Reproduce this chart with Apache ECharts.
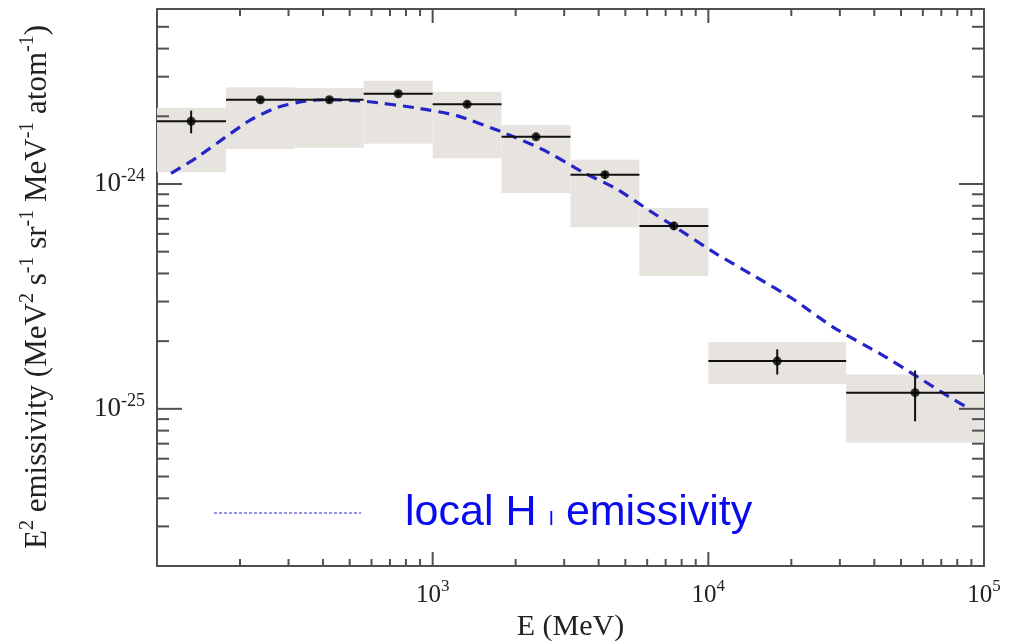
<!DOCTYPE html>
<html><head><meta charset="utf-8">
<script src="https://cdn.jsdelivr.net/npm/echarts@6.0.0/dist/echarts.min.js"></script>
<style>html,body{margin:0;padding:0;background:#fff}#c{width:1017px;height:641px}</style>
</head><body><div id="c"></div>
<script>
// ---- data ----
const binLo = [100, 178, 316, 562, 1000, 1778, 3162, 5623, 10000, 31623];
const binHi = [178, 316, 562, 1000, 1778, 3162, 5623, 10000, 31623, 100000];
const energy = [133, 237, 422, 750, 1334, 2371, 4217, 7499, 17783, 56234];
const emissivity = [1.90e-24, 2.37e-24, 2.37e-24, 2.52e-24, 2.26e-24, 1.62e-24, 1.10e-24, 6.51e-25, 1.63e-25, 1.18e-25];
const statLo = [1.68e-24, 2.30e-24, 2.30e-24, 2.45e-24, 2.20e-24, 1.57e-24, 1.06e-24, 6.25e-25, 1.42e-25, 8.8e-26];
const statHi = [2.12e-24, 2.44e-24, 2.44e-24, 2.59e-24, 2.33e-24, 1.67e-24, 1.14e-24, 6.78e-25, 1.84e-25, 1.48e-25];
const sysLo = [1.127e-24, 1.43e-24, 1.45e-24, 1.51e-24, 1.30e-24, 9.12e-25, 6.42e-25, 3.90e-25, 1.29e-25, 7.06e-26];
const sysHi = [2.18e-24, 2.69e-24, 2.67e-24, 2.88e-24, 2.57e-24, 1.83e-24, 1.28e-24, 7.82e-25, 1.98e-25, 1.42e-25];
const modelE = [112.5, 139.6, 176.6, 217.8, 272.3, 349.1, 424.6, 576.8, 874.9, 1222, 1803, 2518, 3516, 4645, 6124, 7482, 10691, 14928, 20277, 28314, 42954, 56234, 74817, 88512];
const modelY = [1.114e-24, 1.312e-24, 1.611e-24, 1.923e-24, 2.188e-24, 2.344e-24, 2.371e-24, 2.328e-24, 2.178e-24, 2.014e-24, 1.694e-24, 1.419e-24, 1.127e-24, 9.51e-25, 7.60e-25, 6.50e-25, 4.89e-25, 3.85e-25, 3.08e-25, 2.31e-25, 1.73e-25, 1.41e-25, 1.13e-25, 1.00e-25];
const xMajorTicks = [1000, 10000];
const yMajorTicks = [1e-25, 1e-24];
const xMinorTicks = [200, 300, 400, 500, 600, 700, 800, 900, 2000, 3000, 4000, 5000, 6000, 7000, 8000, 9000, 20000, 30000, 40000, 50000, 60000, 70000, 80000, 90000];
const yMinorTicks = [3e-26, 4e-26, 5e-26, 6e-26, 7e-26, 8e-26, 9e-26, 2e-25, 3e-25, 4e-25, 5e-25, 6e-25, 7e-25, 8e-25, 9e-25, 2e-24, 3e-24, 4e-24, 5e-24];
const X_MIN = 100, X_MAX = 100000, Y_MIN = 2e-26, Y_MAX = 6e-24;
const xTitle = 'E (MeV)';
const yTitle = '{b|E}{s|2}{b| emissivity (MeV}{s|2}{b| s}{s|-1}{b| sr}{s|-1}{b| MeV}{s|-1}{b| atom}{s|-1}{b|)}';
const legendName = 'local H I emissivity';

// ---- chart ----
const AX = '#505050';
const SERIF = '"Liberation Serif", "DejaVu Serif", serif';
const SANS = '"Liberation Sans", Arial, sans-serif';
const chart = echarts.init(document.getElementById('c'), null, {renderer: 'canvas'});

function powLabel(v) {
  if (!(v > 0)) return '';
  const e = Math.log10(v), r = Math.round(e);
  if (!isFinite(e) || Math.abs(e - r) > 1e-6) return '';
  return '{b|10}{s|' + r + '}';
}

const boxData = binLo.map((lo, i) => [lo, binHi[i], sysLo[i], sysHi[i]]);
const barData = binLo.map((lo, i) => [lo, binHi[i], emissivity[i], energy[i], statLo[i], statHi[i]]);

function frameAxis(pos) {
  return {
    type: 'log', logBase: 10, position: pos,
    axisLine: {show: true, onZero: false, lineStyle: {color: AX, width: 2}},
    axisTick: {show: false},
    axisLabel: {show: false}, splitLine: {show: false}
  };
}

const xBottom = Object.assign(frameAxis('bottom'), {
  min: X_MIN, max: X_MAX,
  axisLabel: {
    show: true, showMinLabel: false, margin: 12, formatter: v => powLabel(v),
    rich: {
      b: {fontFamily: SERIF, fontSize: 25, color: '#222', lineHeight: 34},
      s: {fontFamily: SERIF, fontSize: 17, color: '#222', lineHeight: 12, verticalAlign: 'top'}
    }
  },
  name: xTitle, nameLocation: 'middle', nameGap: 42,
  nameTextStyle: {fontFamily: SERIF, fontSize: 30, color: '#222'}
});
const xTop = Object.assign(frameAxis('top'), {min: X_MIN, max: X_MAX});
const yLeft = Object.assign(frameAxis('left'), {
  min: Y_MIN, max: Y_MAX,
  axisLabel: {
    show: true, margin: 12, formatter: v => powLabel(v),
    rich: {
      b: {fontFamily: SERIF, fontSize: 27, color: '#222', lineHeight: 34},
      s: {fontFamily: SERIF, fontSize: 18, color: '#222', lineHeight: 16, verticalAlign: 'top'}
    }
  }
});
const yRight = Object.assign(frameAxis('right'), {min: Y_MIN, max: Y_MAX});

// tick marks on all four sides, placed through the axes' scales
function xTickSeries(values, len) {
  return {
    type: 'custom', z: 5, silent: true,
    data: values.map(v => [v, Y_MIN]),
    renderItem: (params, api) => {
      const v = api.value(0);
      const b = api.coord([v, Y_MIN]), t = api.coord([v, Y_MAX]);
      const st = {stroke: AX, lineWidth: 2};
      return {type: 'group', children: [
        {type: 'line', shape: {x1: b[0], y1: b[1], x2: b[0], y2: b[1] - len}, style: st},
        {type: 'line', shape: {x1: t[0], y1: t[1], x2: t[0], y2: t[1] + len}, style: st}
      ]};
    }
  };
}
function yTickSeries(values, len) {
  return {
    type: 'custom', z: 5, silent: true,
    data: values.map(v => [X_MIN, v]),
    renderItem: (params, api) => {
      const v = api.value(1);
      const l = api.coord([X_MIN, v]), r = api.coord([X_MAX, v]);
      const st = {stroke: AX, lineWidth: 2};
      return {type: 'group', children: [
        {type: 'line', shape: {x1: l[0], y1: l[1], x2: l[0] + len, y2: l[1]}, style: st},
        {type: 'line', shape: {x1: r[0], y1: r[1], x2: r[0] - len, y2: r[1]}, style: st}
      ]};
    }
  };
}

const option = {
  backgroundColor: '#fff',
  animation: false,
  grid: {left: 157, right: 33, top: 9, bottom: 75, containLabel: false, outerBoundsMode: 'none'},
  xAxis: [xBottom, xTop],
  yAxis: [yLeft, yRight],
  graphic: [{
    type: 'text', silent: true, x: 38, y: 287, rotation: Math.PI / 2,
    style: {
      text: yTitle, align: 'center', verticalAlign: 'middle',
      rich: {
        b: {fontFamily: SERIF, fontSize: 31, fill: '#222', lineHeight: 40},
        s: {fontFamily: SERIF, fontSize: 20, fill: '#222', lineHeight: 18, verticalAlign: 'top'}
      }
    }
  }, {
    type: 'line', silent: true,
    shape: {x1: 214, y1: 513, x2: 361, y2: 513},
    style: {stroke: '#2a2ad0', lineWidth: 1, lineDash: [3, 2]}
  }, {
    type: 'text', silent: true, x: 405, y: 513,
    style: {
      text: '{a|local H }{b|I}{a| emissivity}',
      verticalAlign: 'middle',
      rich: {
        a: {fontFamily: SANS, fontSize: 43, fill: '#0a0aee', lineHeight: 50},
        b: {fontFamily: SANS, fontSize: 20, fill: '#0a0aee', lineHeight: 20, verticalAlign: 'middle', padding: [12, 0, 0, 0]}
      }
    }
  }],
  series: [{
    type: 'custom', name: 'systematics', z: 1,
    data: boxData,
    renderItem: (params, api) => {
      const p0 = api.coord([api.value(0), api.value(3)]);
      const p1 = api.coord([api.value(1), api.value(2)]);
      return {type: 'rect', shape: {x: p0[0], y: p0[1], width: p1[0] - p0[0], height: p1[1] - p0[1]},
        style: {fill: '#e7e4df', stroke: null}};
    }
  },
  xTickSeries(xMajorTicks, 14),
  xTickSeries(xMinorTicks, 7),
  yTickSeries(yMajorTicks, 25),
  yTickSeries(yMinorTicks, 12),
  {
    type: 'custom', name: 'errors', z: 4,
    data: barData,
    renderItem: (params, api) => {
      const a = api.coord([api.value(0), api.value(2)]);
      const b = api.coord([api.value(1), api.value(2)]);
      const c = api.coord([api.value(3), api.value(4)]);
      const d = api.coord([api.value(3), api.value(5)]);
      const st = {stroke: '#111', lineWidth: 2};
      return {type: 'group', children: [
        {type: 'line', shape: {x1: a[0], y1: a[1], x2: b[0], y2: b[1]}, style: st},
        {type: 'line', shape: {x1: c[0], y1: c[1], x2: d[0], y2: d[1]}, style: st}
      ]};
    }
  }, {
    type: 'line', name: legendName, z: 3,
    data: modelE.map((e, i) => [e, modelY[i]]),
    showSymbol: false, symbol: 'none', smooth: 0.2,
    lineStyle: {color: '#2424c8', width: 3.2, type: [11, 7]}
  }, {
    type: 'scatter', name: 'points', z: 6,
    data: energy.map((e, i) => [e, emissivity[i]]),
    symbol: 'circle', symbolSize: 9,
    itemStyle: {color: '#000'}
  }]
};
chart.setOption(option);
</script>
</body></html>
